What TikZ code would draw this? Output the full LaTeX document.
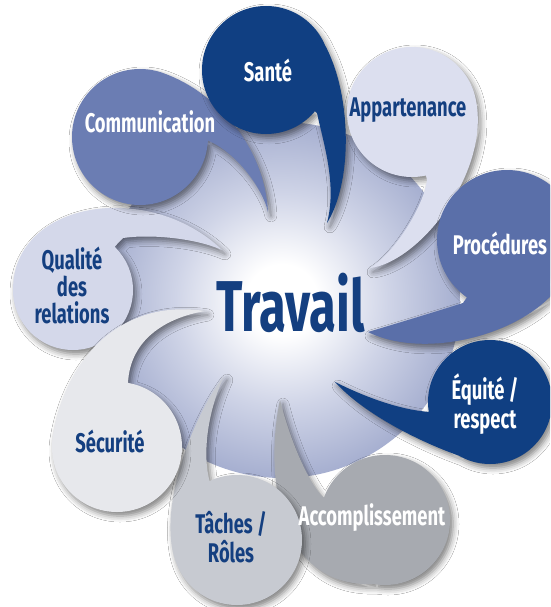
\documentclass[tikz,border=0pt]{standalone}
\usepackage{fontspec}
\newfontfamily\cond{Fira Sans}[FakeStretch=0.68]
\usetikzlibrary{shadows.blur}
\definecolor{navy}{HTML}{103F82}
\definecolor{txtnavy}{HTML}{143F80}
\definecolor{cApp}{HTML}{DCDFEF}
\definecolor{cProc}{HTML}{5A6FA9}
\definecolor{cAcc}{HTML}{A7AAB0}
\definecolor{cTach}{HTML}{C7CAD1}
\definecolor{cSec}{HTML}{E7E8EC}
\definecolor{cQual}{HTML}{D4D8EA}
\definecolor{cComm}{HTML}{6B7DB3}
\definecolor{bgmid}{HTML}{CFD4E7}
\definecolor{bgout}{HTML}{A6AFD0}
\pgfdeclareradialshading{bgshade}{\pgfpoint{0bp}{0bp}}{color(0bp)=(white); color(5bp)=(white); color(15bp)=(bgmid); color(25bp)=(bgout); color(50bp)=(bgout)}
\begin{document}
\begin{tikzpicture}[x=1pt,y=-1pt,
  bub/.style={blur shadow={shadow xshift=3pt, shadow yshift=-4pt, shadow blur radius=6pt, shadow opacity=50}},
  lbl/.style={font=\cond\bfseries\fontsize{27}{29}\selectfont, align=center, inner sep=0pt}]
\useasboundingbox (0,0) rectangle (550,607);
\clip (0,0) rectangle (550,607);
\fill[white] (0,0) rectangle (550,607);
\path[shading=bgshade] (282,300) circle[radius=178];
% Accomplissement
\path[bub, fill=cAcc] (385,520) ++(65,0) arc[start angle=0,end angle=360,radius=65]
  (385,520) -- (373.7,584) .. controls (275,588) and (265,470) .. (280,400)
  .. controls (290,440) and (308,482) .. (323,497) -- cycle;
% Qualite
\path[bub, fill=cQual] (73,290) ++(60,0) arc[start angle=0,end angle=360,radius=60]
  (73,290) -- (13,290) .. controls (13,200) and (150,180) .. (222,250)
  .. controls (195,238) and (150,234) .. (123,238) -- cycle;
% Communication
\path[bub, fill=cComm] (140,137) ++(68,0) arc[start angle=0,end angle=360,radius=68]
  (140,137) -- (163.3,73.1) .. controls (219.7,93.5) and (265,150) .. (268,212)
  .. controls (262,185) and (230,145) .. (200,138) -- cycle;
% Taches
\path[bub, fill=cTach] (237,540) ++(65,0) arc[start angle=0,end angle=360,radius=65]
  (237,540) -- (180.7,572.5) .. controls (150.7,520.5) and (193,415) .. (224,376)
  .. controls (206,416) and (203,456) .. (209.5,481) -- cycle;
% Securite
\path[bub, fill=cSec] (117,447) ++(65,0) arc[start angle=0,end angle=360,radius=65]
  (117,447) -- (52.6,438) .. controls (64,360) and (120,298) .. (205,311)
  .. controls (165,318) and (130,340) .. (128,383) -- cycle;
% Sante
\path[bub, fill=navy] (266,70) ++(64,0) arc[start angle=0,end angle=360,radius=64]
  (266,70) -- (298,14.6) .. controls (349,45) and (360,170) .. (327,223)
  .. controls (337,185) and (324,145) .. (317,113) -- cycle;
% Appartenance
\path[bub, fill=cApp] (412,112) ++(65,0) arc[start angle=0,end angle=360,radius=65]
  (412,112) -- (476,100.7) .. controls (490,172) and (420,262) .. (370,268)
  .. controls (395,253) and (424,205) .. (427,180) -- cycle;
% Procedures
\path[bub, fill=cProc] (507,240) ++(70,0) arc[start angle=0,end angle=360,radius=70]
  (507,240) -- (556.5,289.5) .. controls (520,335) and (425,360) .. (368,332)
  .. controls (395,324) and (438,311) .. (463,303) -- cycle;
% Equite
\path[bub, fill=navy] (490,402) ++(62,0) arc[start angle=0,end angle=360,radius=62]
  (490,402) -- (459,455.7) .. controls (415,440) and (362,412) .. (335,382)
  .. controls (365,397) and (400,410) .. (430,412) -- cycle;
% labels
\node[lbl, text=white] (sante) at (268,70) {Santé};
\node[lbl, text=txtnavy] (appart) at (408,110) {Appartenance};
\node[lbl, text=white] (proc) at (500,243) {Procédures};
\node[lbl, text=white] (equite) at (485,404) {Équité /\\respect};
\node[lbl, text=white] (accomp) at (372,518) {Accomplissement};
\node[lbl, text=txtnavy] (taches) at (231,537) {Tâches /\\Rôles};
\node[lbl, text=txtnavy] (secur) at (110,441) {Sécurité};
\node[lbl, text=txtnavy, font=\cond\bfseries\fontsize{27}{27}\selectfont] (qualite) at (72,285) {Qualité\\des\\relations};
\node[lbl, text=white] (comm) at (150,122) {Communication};
\node[text=txtnavy, font=\cond\bfseries\fontsize{72}{72}\selectfont, inner sep=0pt] (travail) at (291,303) {Travail};
\end{tikzpicture}
\end{document}
